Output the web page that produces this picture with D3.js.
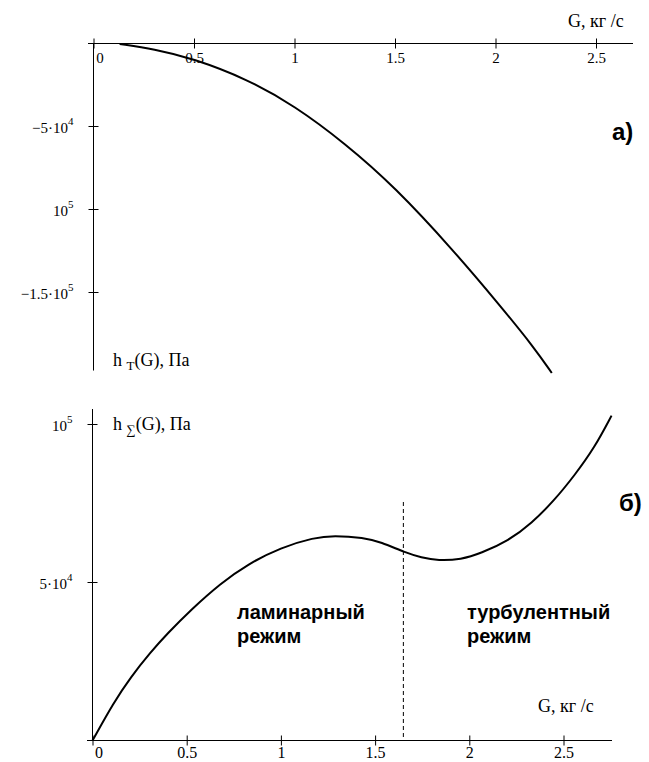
<!DOCTYPE html>
<html>
<head>
<meta charset="utf-8">
<script src="https://cdn.jsdelivr.net/npm/d3@7"></script>
<style>
  body { margin: 0; background: #fff; }
  .serif { font-family: "Liberation Serif", "Times New Roman", serif; fill: #000; }
  .bold { font-family: "Liberation Sans", Arial, sans-serif; font-weight: bold; fill: #000; }
</style>
</head>
<body>
<script>
// x ticks shared by both panels
var gTicks = [0, 0.5, 1, 1.5, 2, 2.5];

// panel a) : friction loss hT(G), Pa
var topG = [0.13, 0.3, 0.495, 0.764, 1.0, 1.25, 1.5, 1.79, 2.02, 2.19, 2.28];
var topH = [-300, -3300, -9000, -21400, -37500, -60000, -86500, -124500, -157500, -182800, -198500];
var topYTicks = [-5e4, -1e5, -1.5e5];
var topYLabels = [["\u22125\u00b710", "4"], ["10", "5"], ["\u22121.5\u00b710", "5"]];

// panel б) : total head hΣ(G), Pa
var botG = [0, 0.112, 0.202, 0.309, 0.397, 0.521, 0.681, 0.824, 1.0, 1.176, 1.28, 1.44, 1.53,
            1.66, 1.745, 1.835, 1.957, 2.06, 2.21, 2.33, 2.45, 2.56, 2.665, 2.755];
var botH = [0, 12000, 20000, 28000, 33800, 41300, 49800, 55800, 61100, 64200, 64900, 64200, 62800,
            59500, 57900, 56900, 57300, 59200, 63300, 68700, 75900, 84000, 92700, 102800];
var botYTicks = [1e5, 5e4];
var botYLabels = [["10", "5"], ["5\u00b710", "4"]];
var transitionG = 1.65;

var svg = d3.select("body").append("svg")
    .attr("width", 649)
    .attr("height", 762);

// Set the ranges
var xTop = d3.scaleLinear().domain([0, 2.5]).range([93.5, 596]);
var yTop = d3.scaleLinear().domain([0, -198000]).range([43.5, 372.2]);
var xBot = d3.scaleLinear().domain([0, 2.5]).range([92.5, 563.5]);
var yBot = d3.scaleLinear().domain([0, 1e5]).range([740.5, 424.5]);

function drawPanel(x, y, yMin, yMax, xLeft, xRight, yTicks, yLabels, bottom) {
    var g = svg.append("g");
    var zeroY = y(0);

    // x axis
    var xAxis = d3.axisBottom(x).tickValues(gTicks).tickSize(5).tickFormat(d3.format(""));
    var ax = g.append("g")
        .attr("transform", "translate(0," + zeroY + ")")
        .call(xAxis);
    ax.select(".domain").remove();
    ax.selectAll(".tick line").attr("y1", -5).attr("y2", 5).attr("stroke", "#000");
    ax.selectAll(".tick text")
        .attr("class", "serif")
        .attr("font-size", bottom ? 16 : 15)
        .attr("font-family", null)
        .attr("dy", null)
        .attr("y", bottom ? 17 : 19)
        .attr("dx", function(d) { return d === 0 ? 6 : 0; });
    g.append("line")
        .attr("x1", xLeft).attr("x2", xRight)
        .attr("y1", zeroY).attr("y2", zeroY)
        .attr("stroke", "#000");

    // y axis
    g.append("line")
        .attr("x1", x(0)).attr("x2", x(0))
        .attr("y1", y(yMax)).attr("y2", y(yMin))
        .attr("stroke", "#000");
    yTicks.forEach(function(v, i) {
        g.append("line")
            .attr("x1", x(0) - 5).attr("x2", x(0) + 5)
            .attr("y1", y(v)).attr("y2", y(v))
            .attr("stroke", "#000");
        var t = g.append("text")
            .attr("class", "serif")
            .attr("font-size", 15)
            .attr("text-anchor", "end")
            .attr("x", x(0) - 20)
            .attr("y", y(v) + 6);
        t.append("tspan").text(yLabels[i][0]);
        t.append("tspan").attr("font-size", 11).attr("dy", -8).text(yLabels[i][1]);
    });
    return g;
}

var line = d3.line().curve(d3.curveBasis);

// panel a)
drawPanel(xTop, yTop, -197000, 0, 88, 633, topYTicks, topYLabels, false);
svg.append("path")
    .attr("d", line(topG.map(function(d, i) { return [xTop(d), yTop(topH[i])]; })))
    .attr("fill", "none").attr("stroke", "#000").attr("stroke-width", 2);

// panel б)
drawPanel(xBot, yBot, 0, 104900, 87, 612, botYTicks, botYLabels, true);
svg.append("path")
    .attr("d", line(botG.map(function(d, i) { return [xBot(d), yBot(botH[i])]; })))
    .attr("fill", "none").attr("stroke", "#000").attr("stroke-width", 2);

svg.append("line")
    .attr("x1", xBot(transitionG)).attr("x2", xBot(transitionG))
    .attr("y1", 502).attr("y2", yBot(0))
    .attr("stroke", "#000").attr("stroke-dasharray", "4,3");

// axis titles
function axisTitle(xp, yp, txt) {
    svg.append("text").attr("class", "serif").attr("font-size", 18)
        .attr("x", xp).attr("y", yp).text(txt);
}
axisTitle(568, 27, "G, \u043a\u0433 /\u0441");
axisTitle(538, 712, "G, \u043a\u0433 /\u0441");

function hTitle(xp, yp, sub) {
    var t = svg.append("text").attr("class", "serif").attr("font-size", 18)
        .attr("x", xp).attr("y", yp);
    t.append("tspan").text("h ");
    t.append("tspan").attr("font-size", 13).attr("dy", 4).text(sub);
    t.append("tspan").attr("dy", -4).text("(G), \u041f\u0430");
}
hTitle(113, 366, "T");
hTitle(113, 430, "\u2211");

// panel letters and regime labels
svg.append("text").attr("class", "bold").attr("font-size", 24).attr("x", 612).attr("y", 140).text("\u0430)");
svg.append("text").attr("class", "bold").attr("font-size", 24).attr("x", 619).attr("y", 511).text("\u0431)");

function regime(xp, yp, word) {
    var t = svg.append("text").attr("class", "bold").attr("font-size", 20).attr("x", xp).attr("y", yp);
    t.append("tspan").attr("x", xp).text(word);
    t.append("tspan").attr("x", xp).attr("dy", 24).text("\u0440\u0435\u0436\u0438\u043c");
}
regime(237, 619, "\u043b\u0430\u043c\u0438\u043d\u0430\u0440\u043d\u044b\u0439");
regime(467, 619, "\u0442\u0443\u0440\u0431\u0443\u043b\u0435\u043d\u0442\u043d\u044b\u0439");
</script>
</body>
</html>
